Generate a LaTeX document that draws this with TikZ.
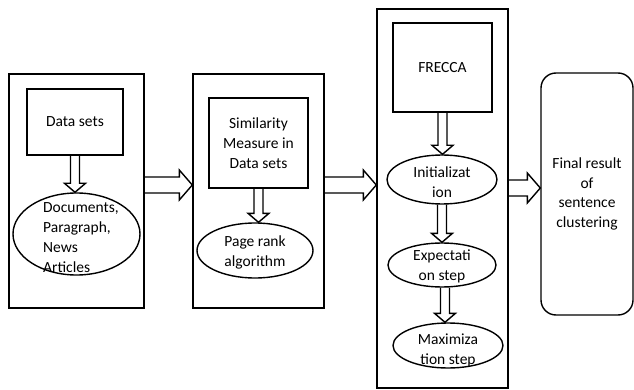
\documentclass[tikz,border=0pt]{standalone}
\usepackage{fontspec}
\setmainfont{Carlito}
\usetikzlibrary{shapes.geometric,calc}
\tikzset{
 txt/.style={font=\fontsize{15.5}{20}\selectfont, align=center, inner sep=0pt},
 box/.style={draw, line width=1.4pt, inner sep=0pt, txt},
 oval/.style={ellipse, draw, line width=1.4pt, inner sep=0pt},
 harrow/.style={draw, line width=1.4pt, line join=miter},
}
\newcommand\hdown[2]{\draw[harrow] let \p1=(#1), \p2=(#2) in (\x1-4.5,\y1) -- (\x1-4.5,\y2+9) -- (\x1-10.5,\y2+9) -- (\x1,\y2) -- (\x1+10.5,\y2+9) -- (\x1+4.5,\y2+9) -- (\x1+4.5,\y1);}
\newcommand\hright[2]{\draw[harrow] let \p1=(#1), \p2=(#2) in (\x1,\y1+8) -- (\x2-13,\y1+8) -- (\x2-13,\y1+15) -- (\x2,\y1) -- (\x2-13,\y1-15) -- (\x2-13,\y1-8) -- (\x1,\y1-8);}
\begin{document}
\begin{tikzpicture}[x=1pt,y=-1pt]
\useasboundingbox (0,0) rectangle (634,390);
% stage 1
\node[box, minimum width=135pt, minimum height=234pt] (b1) at (76.5,191) {};
\node[box, minimum width=96pt, minimum height=66pt] (ds) at (75,122) {Data sets};
\node[oval, minimum width=127pt, minimum height=82pt,
  label={[txt,align=left,xshift=4.5pt,yshift=-3.5pt]center:{Documents,\\Paragraph,\\News\\Articles}}] (e1) at (76.5,234) {};
% stage 2
\node[box, minimum width=131pt, minimum height=234pt] (b2) at (258.5,191) {};
\node[box, minimum width=99pt, minimum height=90pt] (sim) at (258.5,143) {Similarity\\Measure in\\Data sets};
\node[oval, minimum width=116pt, minimum height=55pt,
  label={[txt,yshift=-2pt]center:{Page rank\\algorithm}}] (e2) at (255,250.5) {};
% stage 3
\node[box, minimum width=131pt, minimum height=379pt] (b3) at (442.5,198.5) {};
\node[box, minimum width=99pt, minimum height=89pt] (fr) at (442.5,67.5) {FRECCA};
\node[oval, minimum width=110pt, minimum height=49pt,
  label={[txt,yshift=-2.5pt]center:{Initializat\\ion}}] (e3) at (442,179.5) {};
\node[oval, minimum width=108pt, minimum height=44pt,
  label={[txt,yshift=-1pt]center:{Expectati\\on step}}] (e4) at (442,265) {};
\node[oval, minimum width=110pt, minimum height=45pt,
  label={[txt,yshift=-5pt]center:{Maximiza\\tion step}}] (e5) at (448,345.5) {};
% final
\node[box, rounded corners=15pt, minimum width=92pt, minimum height=242pt,
  font=\fontsize{15.5}{19.5}\selectfont] (fin) at (587,194) {Final result\\of\\sentence\\clustering};
% arrows
\hdown{ds.south}{e1.north}
\hdown{sim.south}{e2.north}
\hdown{fr.south}{e3.north}
\hdown{e3.south}{e4.north}
\hdown{[xshift=3pt]e4.south}{e5.north}
\hright{[yshift=6pt]b1.east}{b2.west}
\hright{[yshift=6pt]b2.east}{b3.west}
\hright{[yshift=10.5pt]b3.east}{fin.west}
\end{tikzpicture}
\end{document}
